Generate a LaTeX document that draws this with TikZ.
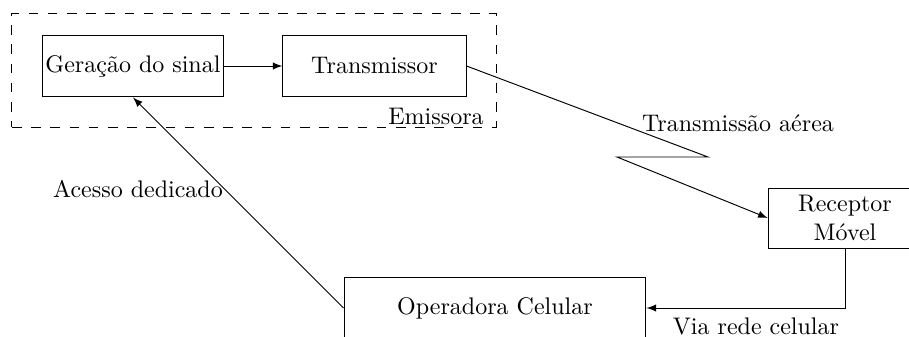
\documentclass[tikz,border=0pt]{standalone}
\usetikzlibrary{arrows}
\begin{document}
\begin{tikzpicture}[x=0.41667pt, y=-0.41667pt, >=latex,
  blockbox/.style={draw, rectangle, inner sep=0.5pt, minimum height=25.8pt},
  lbl/.style={inner sep=0pt}]
\useasboundingbox (0,0) rectangle (909,336);

% dashed frame around the transmitting side
\node[draw, dash pattern=on 4pt off 4pt, rectangle, minimum width=201.7pt, minimum height=47.5pt, inner sep=0pt] (emissora) at (254,70) {};
\node[lbl] (emlbl) at (436,116) {Emissora};

% blocks
\node[blockbox, minimum width=75.8pt] (gen) at (133,66) {Geração do sinal};
\node[blockbox, minimum width=76.3pt] (tx) at (374.5,66) {Transmissor};
\node[blockbox, minimum width=64pt, minimum height=25pt, align=center] (rx) at (845,218) {Receptor\\Móvel};
\node[blockbox, minimum width=125.8pt] (op) at (495,308) {Operadora Celular};

% zigzag of the air link
\coordinate (z1) at (708,157);
\coordinate (z2) at (617,157);

% connectors
\draw[->] (gen.east) -- (tx.west);
\draw[->] (tx.east) -- (z1) -- (z2) -- (rx.west);
\draw[->] (rx.south) |- (op.east);
\draw[->] (op.west) -- (gen.south);

% connector labels
\node[lbl] (lair) at (738,123) {Transmissão aérea};
\node[lbl] (lded) at (138,189) {Acesso dedicado};
\node[lbl, anchor=base] (lcel) at (756,334) {Via rede celular};
\end{tikzpicture}
\end{document}
